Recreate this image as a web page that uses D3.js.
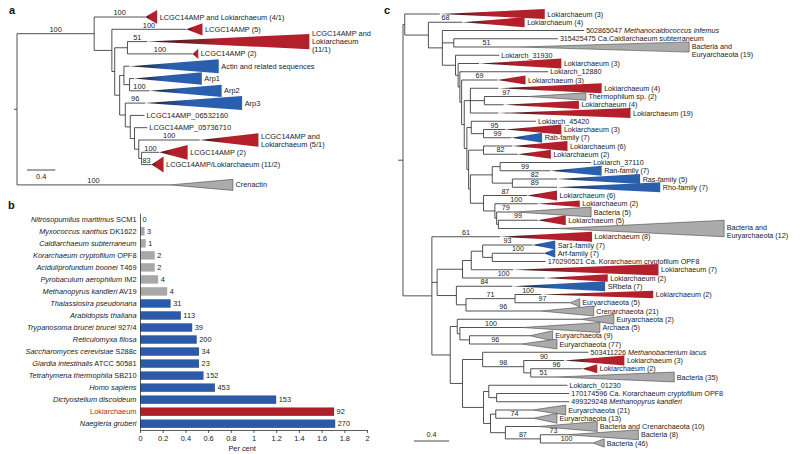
<!DOCTYPE html>
<html><head><meta charset="utf-8">
<script src="https://cdn.jsdelivr.net/npm/d3@7"></script>
<style>
body{margin:0;background:#fff;}
svg{display:block;font-family:"Liberation Sans",Arial,Helvetica,sans-serif;}
</style></head><body>
<svg id="fig" width="800" height="454"></svg>
<script>
// ================= DATA =================
// ---- panel b: per cent of proteome
const barSpecies = [
 "*Nitrosopumilus maritimus* SCM1","*Myxococcus xanthus* DK1622","*Caldiarchaeum subterraneum*",
 "*Korarchaeum cryptofilum* OPF8","*Aciduliprofundum boonei* T469","*Pyrobaculum aerophilum* IM2",
 "*Methanopyrus kandleri* AV19","*Thalassiosira pseudonana*","*Arabidopsis thaliana*",
 "*Trypanosoma brucei brucei* 927/4","*Reticulomyxa filosa*","*Saccharomyces cerevisiae* S288c",
 "*Giardia intestinalis* ATCC 50581","*Tetrahymena thermophila* SB210","*Homo sapiens*",
 "*Dictyostelium discoideum*","Lokiarchaeum","*Naegleria gruberi*"];
const barPercent = [0,0.04,0.05,0.13,0.13,0.16,0.24,0.27,0.36,0.46,0.5,0.52,0.52,0.56,0.66,1.2,1.71,1.72];
const barCounts  = [0,3,1,2,2,4,4,31,113,39,200,34,23,152,453,153,92,270];
const barGroups  = ["o","o","o","o","o","o","o","e","e","e","e","e","e","e","e","e","l","e"];
const barTicks   = [0,0.2,0.4,0.6,0.8,1,1.2,1.4,1.6,1.8,2];

// ---- panel a: actin tree (leaf names are indices into the arrays below)
const aNewick = "((0:0.72,(1:1.05,((2:0.28,3:0.92):0.18,((4:0.08,(5:0.06,6:0.28):0.08):0.06,(7:0.28,(8:0.20,(9:0.18,(10:0.86,(11:0.25,12:0.14):0.04):0.06):0.06):0.07):0.08):0.07):0.04):0.25)100:1.09,13:2.16);";
const aLabels = ["LCGC14AMP and Lokiarchaeum (4/1)","LCGC14AMP (5)","LCGC14AMP and|Lokiarchaeum|(11/1)",
 "LCGC14AMP (2)","Actin and related sequences","Arp1","Arp2","Arp3","LCGC14AMP_06532160",
 "LCGC14AMP_05736710","LCGC14AMP and|Lokiarchaeum (5/1)","LCGC14AMP (2)","LCGC14AMP/Lokiarchaeum (11/2)","Crenactin"];
const aKinds   = ["r","r","r","r","b","b","b","b","n","n","r","r","r","g"];
const aDepth   = [0.17,0.23,2.29,0.08,1.26,0.96,1.02,1.37,0,0,0.83,0.40,0.17,0.89];
const aSpread  = [0.57,0.5,0.62,0.42,0.57,0.5,0.5,0.57,0,0,0.55,0.6,0.65,0.45];
const aSupport = [100,100,51,100,null,null,100,96,null,null,100,100,83,100];

// ---- panel c: small GTPase tree
const cNewickTop = "(0:0.40,(1:0.39,(2:1.62,(3:1.19,4:0.75):0.13,(5:0.50,(6:0.24,(7:1.01,(8:0.41,((9:0.32,(10:0.50,11:0.22):0.16,12:0.32):0.07,((13:0.74,(14:0.25,15:0.32):0.14):0.05,((16:0.33,17:0.39):0.17,(((18:1.04,19:0.57):0.09,(20:0.51,21:0.51):0.23):0.25,(22:0.50,(23:0.49,(24:0.21,(25:0.45,26:0.67):0.02):0.02):0.13):0.15):0.02):0.02):0.03):0.03):0.02):0.02):0.03):0.15):0.16):0.27):0.02";
const cNewickBottom = "(27:0.78,((((28:0.57,(29:0.59,30:0.61):0.11):0.13,31:0.48):0.10,32:0.94):0.29,(33:0.64,((34:0.30,35:0.63)71:0.56,36:0.85):0.11):0.22):0.06,((37:1.41,(38:0.71,(39:0.69,40:0.59):0.11):0.03):0.08,((41:1.21,(42:0.46,(43:0.59,44:0.29):0.08)98:0.47):0.23,((45:0.90,(46:0.83,47:0.83):0.09):0.06,((48:0.42,49:0.43):0.06,(50:0.38,(51:0.30,52:0.60)87:0.40):0.17):0.08):0.24):0.14):0.21):0.33";
const cLabels = ["Lokiarchaeum (3)","Lokiarchaeum (4)","502865047 *Methanocaldococcus infernus*",
 "315425475 Ca.Caldiarchaeum subterraneum","Bacteria and|Euryarchaeota (19)","Lokiarch_31930",
 "Lokiarchaeum (3)","Lokiarch_12880","Lokiarchaeum (3)","Lokiarchaeum (4)","Thermophilum sp. (2)",
 "Lokiarchaeum (4)","Lokiarchaeum (19)","Lokiarch_45420","Lokiarchaeum (3)","Rab-family (7)",
 "Lokiarchaeum (6)","Lokiarchaeum (2)","Lokiarch_37110","Ran-family (7)","Ras-family (5)",
 "Rho-family (7)","Lokiarchaeum (6)","Lokiarchaeum (2)","Bacteria (5)","Lokiarchaeum (5)",
 "Bacteria and|Euryarchaeota (12)","Lokiarchaeum (8)","Sar1-family (7)","Arf-family (7)",
 "170290521 Ca. Korarchaeum cryptofilum OPF8","Lokiarchaeum (7)","Lokiarchaeum (2)","SRbeta (7)",
 "Lokiarchaeum (2)","Euryarchaeota (5)","Crenarchaeota (21)","Euryarchaeota (2)","Archaea (5)",
 "Euryarchaeota (9)","Euryarchaeota (77)","503411226 *Methanobacterium lacus*","Lokiarchaeum (3)",
 "Lokiarchaeum (2)","Bacteria (35)","Lokiarch_01230","170174596 Ca. Korarchaeum cryptofilum OPF8",
 "499329248 *Methanopyrus kandleri*","Euryarchaeota (21)","Euryarchaeota (13)",
 "Bacteria and Crenarchaeota (10)","Bacteria (8)","Bacteria (46)"];
const cKinds = "rrnngnrnrrgrrnrbrrnbbbrrgrgrbbnrrbrggggggnrrgnnnggggg".split("");
const cDepth = [1.20,0.71,0,0,1.94,0,0.94,0,0.32,1.18, 0.66,0.86,1.51,0,0.64,0.35,0.63,0.38,0,0.59,
 0.95,1.18,0.34,0.48,0.87,0.32,1.91,1.05,0.26,0.13, 0,1.66,0.72,1.06,1.28,0.11,0.61,0.38,0.89,0.26,
 0.41,0,0.69,0.17,1.35,0,0,0,0.38,0.27, 0.67,0.82,0.13];
const cSpread = [0.6,0.6,0,0,0.62,0,0.6,0,0.55,0.6, 0.45,0.5,0.6,0,0.6,0.6,0.6,0.55,0,0.6,
 0.6,0.6,0.6,0.4,0.6,0.6,1.0,0.6,0.55,0.55, 0,0.7,0.45,0.6,0.45,0.5,0.6,0.6,0.6,0.6,
 0.6,0,0.6,0.55,0.6,0,0,0,0.6,0.6, 0.6,0.6,0.5];
const cSupport = [null,68,null,null,51,null,null,null,69,null, 97,null,null,null,95,99,null,82,null,99,
 82,89,87,100,79,99,null,61,93,100, null,null,100,84,100,97,96,null,100,null,
 96,null,90,96,51,null,null,null,null,74, null,73,100];

// ================= DRAWING =================
const svg = d3.select("#fig");
const defs = svg.append("defs");
const COL = {r:"#b3202c", b:"#2a5fae", g:"#ababab", o:"#a8a8a8", e:"#2a5aa8", l:"#b01e29"};
const DARK = "#1e1e1e", INK = "#222", LINE = "#333";

function parseNewick(s){
  let i = 0;
  function node(){
    const n = {children:[], name:"", len:0};
    if(s[i] === "("){
      i++;
      n.children.push(node());
      while(s[i] === ","){ i++; n.children.push(node()); }
      i++;
    }
    while(i < s.length && !",):;".includes(s[i])) n.name += s[i++];
    if(s[i] === ":"){ i++; let num=""; while(i < s.length && !",);".includes(s[i])) num += s[i++]; n.len = +num; }
    return n;
  }
  return node();
}
function richText(sel, str){
  str.split("*").forEach((seg,k)=>{ if(seg) sel.append("tspan").attr("font-style", k%2 ? "italic" : null).text(seg); });
}

let gradId = 0;
function drawTree(g, cfg){
  const root = d3.hierarchy(parseNewick(cfg.newick), d => d.children.length ? d.children : null);
  root.eachBefore(n => { n.dist = n.parent ? n.parent.dist + n.data.len : 0; });
  const og = new Set(cfg.outgroupGap ? root.children[root.children.length-1].leaves() : []);
  root.leaves().forEach(l => { l.idx = +l.data.name; l.y = cfg.y(l.idx) + (og.has(l) ? cfg.outgroupGap : 0); });
  root.eachAfter(n => { n.x = cfg.x(n.dist); if(n.children) n.y = (n.children[0].y + n.children[n.children.length-1].y)/2; });
  const fs = cfg.fontSize;
  // branches
  const nodes = root.descendants();
  g.append("g").attr("fill","none").attr("stroke",LINE).attr("stroke-width",0.85)
   .selectAll("path").data(nodes).join("path")
   .attr("d", n => {
     let d = n.parent ? `M${n.parent.x},${n.y}H${n.x}` : `M${n.x-cfg.stub},${n.y}H${n.x}`;
     if(n.children) d += `M${n.x},${n.children[0].y}V${n.children[n.children.length-1].y}`;
     return d;
   });
  // collapsed clades
  const leaves = root.leaves();
  const step = cfg.y(1) - cfg.y(0);
  leaves.forEach(l => {
    const i = l.idx, k = cfg.kinds[i], dep = cfg.depth[i];
    l.endX = l.x;
    if(dep > 0){
      const bx = cfg.x(l.dist + dep), h = cfg.spread[i]*step;
      l.endX = bx;
      let fill;
      if(k === "g"){ fill = COL.g; }
      else {
        const id = "gr"+(gradId++);
        const gr = defs.append("linearGradient").attr("id",id).attr("gradientUnits","userSpaceOnUse")
          .attr("x1",l.x).attr("x2",l.x + 0.45*(bx-l.x)).attr("y1",0).attr("y2",0);
        gr.append("stop").attr("offset",0).attr("stop-color",DARK);
        gr.append("stop").attr("offset",1).attr("stop-color",COL[k]);
        fill = `url(#${id})`;
      }
      g.append("path").attr("d", `M${l.x},${l.y}L${bx},${l.y-h}L${bx},${l.y+h}Z`)
        .attr("fill",fill).attr("stroke", k==="g" ? "#3a3a3a" : "none").attr("stroke-width",0.55)
        .attr("stroke-linejoin","miter");
    }
    const lines = cfg.labels[i].split("|");
    const off = lines.length > 1 ? cfg.multiOffset : 0;
    lines.forEach((t,j) => {
      const tx = g.append("text").attr("x", l.endX + (dep>0 ? 2.5 : 2)).attr("y", l.y + off + (j-(lines.length-1)/2)*8)
        .attr("dy","0.35em").attr("font-size",fs).attr("fill",INK);
      richText(tx, t);
    });
  });
  // support values
  nodes.forEach(n => {
    if(!n.parent) return;
    const s = n.children ? n.data.name : cfg.support[n.idx];
    if(s === null || s === undefined || s === "") return;
    g.append("text").attr("x",(n.parent.x + n.x)/2).attr("y", n.y - 1.8).attr("text-anchor","middle")
      .attr("font-size",fs).attr("fill",INK).text(s);
  });
  // scale bar
  const sb = cfg.scaleBar;
  const w = cfg.x(sb.value) - cfg.x(0);
  g.append("path").attr("d",`M${sb.x},${sb.y}h${w}`).attr("stroke",LINE).attr("stroke-width",0.9);
  g.append("text").attr("x", sb.x + w/2).attr("y", sb.y + sb.labelDy).attr("text-anchor","middle")
    .attr("font-size",fs).attr("fill",INK).text(sb.value);
}

// ---- panel a
drawTree(svg.append("g"), {
  newick: aNewick, labels: aLabels, kinds: aKinds, depth: aDepth, spread: aSpread, support: aSupport,
  x: d3.scaleLinear().domain([0,1]).range([17, 87.8]),
  y: d3.scaleLinear().domain([0,12]).range([17, 164.6]),
  outgroupGap: 8, stub: 3, fontSize: 7.4, multiOffset: 0,
  scaleBar: {value: 0.4, x: 27, y: 170, labelDy: 8.5}
});

// ---- panel c
drawTree(svg.append("g"), {
  newick: `(${cNewickTop},${cNewickBottom});`, labels: cLabels, kinds: cKinds, depth: cDepth,
  spread: cSpread, support: cSupport,
  x: d3.scaleLinear().domain([0,1]).range([403, 490.5]),
  y: d3.scaleLinear().domain([0,52]).range([14, 443]),
  outgroupGap: 0, stub: 5, fontSize: 7.2, multiOffset: 3,
  scaleBar: {value: 0.4, x: 414, y: 441, labelDy: -4}
});

// ---- panel b
const gb = svg.append("g");
const xb = d3.scaleLinear().domain([0,2]).range([140,367]);
const yb = d3.scaleBand().domain(d3.range(barSpecies.length)).range([213.3,429.7]).paddingInner(0.3).paddingOuter(0.15);
gb.selectAll("rect").data(barPercent).join("rect")
  .attr("x", xb(0)).attr("y",(d,i)=>yb(i)).attr("width", d => xb(d)-xb(0)).attr("height", yb.bandwidth())
  .attr("fill",(d,i)=>COL[barGroups[i]]);
gb.selectAll("text.sp").data(barSpecies).join("text").attr("class","sp")
  .attr("x",136.5).attr("y",(d,i)=>yb(i)+yb.bandwidth()/2).attr("dy","0.35em").attr("text-anchor","end")
  .attr("font-size",7.4).attr("fill",(d,i)=> barGroups[i]==="l" ? COL.l : INK)
  .each(function(d){ richText(d3.select(this), d); });
gb.selectAll("text.ct").data(barCounts).join("text").attr("class","ct")
  .attr("x",(d,i)=>xb(barPercent[i])+2.5).attr("y",(d,i)=>yb(i)+yb.bandwidth()/2).attr("dy","0.35em")
  .attr("font-size",7.4).attr("fill",INK).text(d=>d);
const ax = gb.append("g").attr("transform","translate(0,430)")
  .call(d3.axisBottom(xb).tickValues(barTicks).tickSize(3).tickSizeOuter(0).tickFormat(d3.format("~g")));
const ay = gb.append("g").attr("transform","translate(140,0)")
  .call(d3.axisLeft(yb).tickSize(0).tickSizeOuter(0).tickFormat(()=>""));
[ax, ay].forEach(a => {
  a.attr("font-family",null).attr("font-size",null);
  a.selectAll("path,line").attr("stroke",LINE).attr("stroke-width",0.8);
  a.selectAll("text").attr("font-size",7.4).attr("fill",INK);
});
gb.append("text").attr("x",xb(0.9)).attr("y",451).attr("text-anchor","middle").attr("font-size",7.4)
  .attr("fill",INK).text("Per cent");

// ---- panel letters
[["a",9,14],["b",8,209],["c",384,14]].forEach(([t,x,y]) =>
  svg.append("text").attr("x",x).attr("y",y).attr("font-size",11).attr("font-weight","bold").attr("fill","#111").text(t));
</script>
</body></html>
